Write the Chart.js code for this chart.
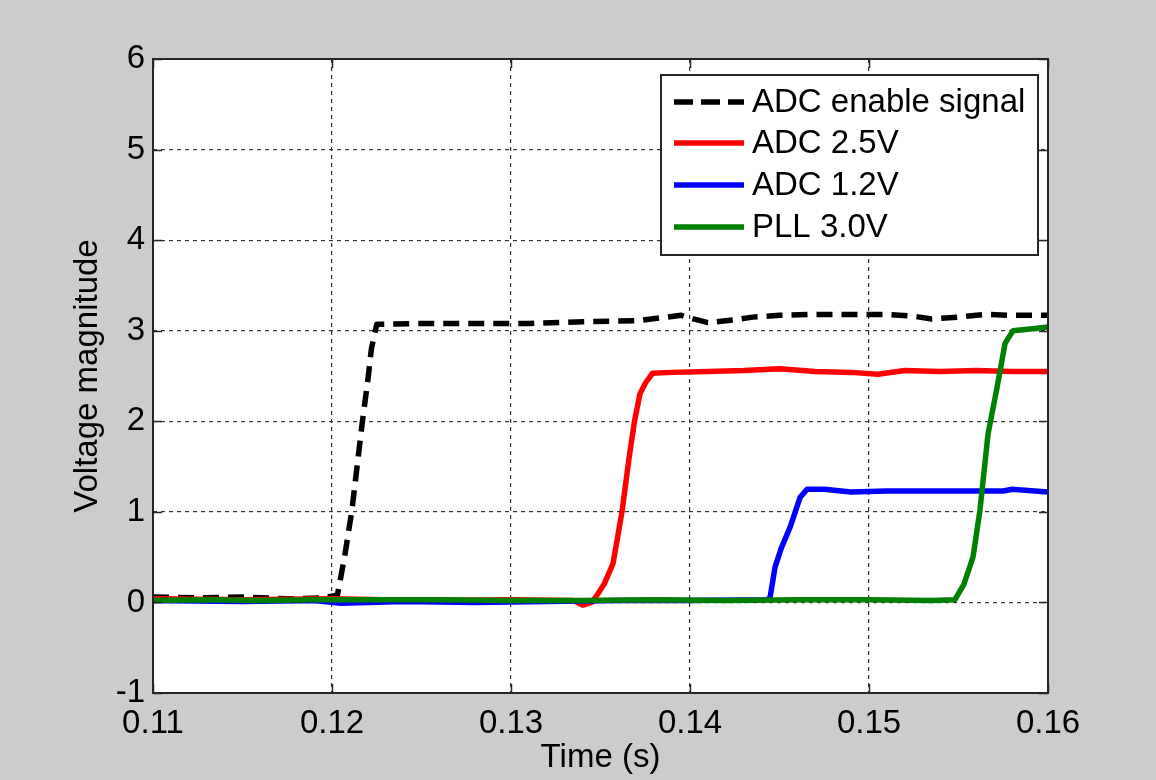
<!DOCTYPE html>
<html>
<head>
<meta charset="utf-8">
<script src="https://cdn.jsdelivr.net/npm/chart.js@4"></script>
<style>
  html, body { margin: 0; padding: 0; background: #cccccc; }
  #wrap { width: 1156px; height: 780px; position: relative; }
</style>
</head>
<body>
<div id="wrap"><canvas id="plot" width="1156" height="780"></canvas></div>
<script>
"use strict";

// series: time (s), voltage (V)
const labels = ["ADC enable signal", "ADC 2.5V", "ADC 1.2V", "PLL 3.0V"];

const tEnable = [0.110, 0.1125, 0.115, 0.1175, 0.1195, 0.1203, 0.1207, 0.1211, 0.1214, 0.1217, 0.1220, 0.1222, 0.1225,
                 0.125, 0.128, 0.131, 0.134, 0.137, 0.1395, 0.1402, 0.1410, 0.1425, 0.1435, 0.145, 0.147, 0.149, 0.151,
                 0.1525, 0.1535, 0.155, 0.1565, 0.158, 0.160];
const vEnable = [0.06, 0.05, 0.06, 0.04, 0.05, 0.08, 0.5, 1.0, 1.5, 2.0, 2.45, 2.8, 3.07,
                 3.08, 3.08, 3.08, 3.10, 3.11, 3.17, 3.13, 3.09, 3.12, 3.15, 3.17, 3.18, 3.18, 3.18,
                 3.16, 3.13, 3.15, 3.18, 3.17, 3.17];

const tAdc25 = [0.110, 0.115, 0.120, 0.125, 0.130, 0.1335, 0.1340, 0.1345, 0.1347, 0.1352, 0.1357, 0.1362, 0.1366,
                0.1369, 0.1372, 0.1375, 0.1379, 0.139, 0.141, 0.143, 0.145, 0.147, 0.149, 0.1505, 0.152, 0.154,
                0.156, 0.158, 0.160];
const vAdc25 = [0.04, 0.03, 0.04, 0.02, 0.03, 0.02, -0.03, 0.0, 0.05, 0.2, 0.43, 1.0, 1.6,
                2.0, 2.3, 2.42, 2.53, 2.54, 2.55, 2.56, 2.58, 2.55, 2.54, 2.52, 2.56, 2.55,
                2.56, 2.55, 2.55];

const tAdc12 = [0.110, 0.115, 0.119, 0.1205, 0.124, 0.128, 0.132, 0.136, 0.140, 0.1443, 0.14447, 0.14475, 0.1451,
                0.14559, 0.14615, 0.14654, 0.1475, 0.149, 0.151, 0.153, 0.155, 0.1575, 0.158, 0.160];
const vAdc12 = [0.02, 0.01, 0.02, -0.01, 0.01, 0.0, 0.01, 0.02, 0.02, 0.03, 0.05, 0.39, 0.6,
                0.83, 1.16, 1.25, 1.25, 1.22, 1.23, 1.23, 1.23, 1.23, 1.25, 1.22];

const tPll = [0.110, 0.113, 0.116, 0.119, 0.122, 0.126, 0.130, 0.134, 0.138, 0.142, 0.146, 0.150, 0.1535, 0.1548,
              0.1553, 0.15581, 0.1562, 0.15665, 0.15715, 0.1576, 0.15804, 0.159, 0.160];
const vPll = [0.02, 0.03, 0.02, 0.03, 0.03, 0.03, 0.02, 0.02, 0.03, 0.02, 0.03, 0.03, 0.02, 0.03,
              0.2, 0.5, 1.02, 1.86, 2.37, 2.86, 3.0, 3.02, 3.04];

const xTicks = [0.11, 0.12, 0.13, 0.14, 0.15, 0.16];
const yTicks = [-1, 0, 1, 2, 3, 4, 5, 6];

const FONT = "'Liberation Sans', Arial, Helvetica, sans-serif";
const FSIZE = 33;

function pts(t, v) {
    return t.map((x, i) => ({ x: x, y: v[i] }));
}

// white axes box, MATLAB style frame with inward ticks
const axesBox = {
    id: "axesBox",
    beforeDraw(chart) {
        const a = chart.chartArea, ctx = chart.ctx;
        ctx.save();
        ctx.fillStyle = "#ffffff";
        ctx.fillRect(a.left, a.top, a.right - a.left, a.bottom - a.top);
        ctx.restore();
    },
    afterDatasetsDraw(chart) {
        const a = chart.chartArea, ctx = chart.ctx;
        const xs = chart.scales.x, ys = chart.scales.y;
        ctx.save();
        ctx.strokeStyle = "#262626";
        ctx.lineWidth = 1.5;
        ctx.beginPath();
        xTicks.forEach(v => {
            const px = Math.round(xs.getPixelForValue(v)) + 0.5;
            ctx.moveTo(px, a.bottom); ctx.lineTo(px, a.bottom - 9);
            ctx.moveTo(px, a.top); ctx.lineTo(px, a.top + 9);
        });
        yTicks.forEach(v => {
            const py = Math.round(ys.getPixelForValue(v)) + 0.5;
            ctx.moveTo(a.left, py); ctx.lineTo(a.left + 9, py);
            ctx.moveTo(a.right, py); ctx.lineTo(a.right - 9, py);
        });
        ctx.stroke();
        ctx.lineWidth = 2;
        ctx.strokeRect(a.left, a.top, a.right - a.left, a.bottom - a.top);
        ctx.restore();
    }
};

// legend drawn inside the axes, top right
const insideLegend = {
    id: "insideLegend",
    afterDraw(chart) {
        const a = chart.chartArea, ctx = chart.ctx;
        const w = 377, h = 180;
        const left = a.right - 387, top = a.top + 16;
        ctx.save();
        ctx.fillStyle = "#ffffff";
        ctx.fillRect(left, top, w, h);
        ctx.strokeStyle = "#262626";
        ctx.lineWidth = 2;
        ctx.strokeRect(left, top, w, h);
        const rows = [27, 68, 110, 152];
        chart.data.datasets.forEach((ds, i) => {
            const y = top + rows[i];
            ctx.strokeStyle = ds.borderColor;
            ctx.lineWidth = 5.5;
            ctx.setLineDash(ds.borderDash ? [19, 8] : []);
            ctx.beginPath();
            ctx.moveTo(left + 13, y);
            ctx.lineTo(left + 83, y);
            ctx.stroke();
            ctx.setLineDash([]);
            ctx.fillStyle = "#000000";
            ctx.font = FSIZE + "px " + FONT;
            ctx.textBaseline = "middle";
            ctx.textAlign = "left";
            ctx.fillText(ds.label, left + 91, y + 1);
        });
        ctx.restore();
    }
};

new Chart(document.getElementById("plot"), {
    type: "line",
    data: {
        datasets: [
            { label: labels[0], data: pts(tEnable, vEnable), borderColor: "#000000", borderDash: [16, 9], order: 4 },
            { label: labels[1], data: pts(tAdc25, vAdc25), borderColor: "#ff0000", order: 3 },
            { label: labels[2], data: pts(tAdc12, vAdc12), borderColor: "#0000ff", order: 2 },
            { label: labels[3], data: pts(tPll, vPll), borderColor: "#008000", order: 1 }
        ]
    },
    options: {
        responsive: false,
        animation: false,
        devicePixelRatio: 1,
        layout: { padding: { top: 59, right: 108, left: 0, bottom: 0 } },
        elements: {
            point: { radius: 0 },
            line: { borderWidth: 5.5, tension: 0, fill: false, borderJoinStyle: "round", borderCapStyle: "butt" }
        },
        plugins: {
            legend: { display: false },
            tooltip: { enabled: false }
        },
        scales: {
            x: {
                type: "linear",
                min: 0.11,
                max: 0.16,
                afterFit: s => { s.height = 87; },
                afterBuildTicks: s => { s.ticks = xTicks.map(v => ({ value: v })); },
                ticks: {
                    color: "#000000",
                    font: { family: FONT, size: FSIZE },
                    padding: 11,
                    maxRotation: 0,
                    callback: v => v.toFixed(2)
                },
                grid: { color: "#333333", lineWidth: 1.2, drawTicks: false },
                border: { display: false, dash: [4, 4] },
                title: {
                    display: true,
                    text: "Time (s)",
                    color: "#000000",
                    font: { family: FONT, size: FSIZE },
                    padding: { top: 0, bottom: 2 }
                }
            },
            y: {
                min: -1,
                max: 6,
                afterFit: s => { s.width = 153; },
                afterBuildTicks: s => { s.ticks = yTicks.map(v => ({ value: v })); },
                ticks: {
                    color: "#000000",
                    font: { family: FONT, size: FSIZE },
                    padding: 8
                },
                grid: { color: "#333333", lineWidth: 1.2, drawTicks: false },
                border: { display: false, dash: [4, 4] },
                title: {
                    display: true,
                    text: "Voltage magnitude",
                    color: "#000000",
                    font: { family: FONT, size: FSIZE },
                    padding: { top: 68, bottom: 0 }
                }
            }
        }
    },
    plugins: [axesBox, insideLegend]
});
</script>
</body>
</html>
